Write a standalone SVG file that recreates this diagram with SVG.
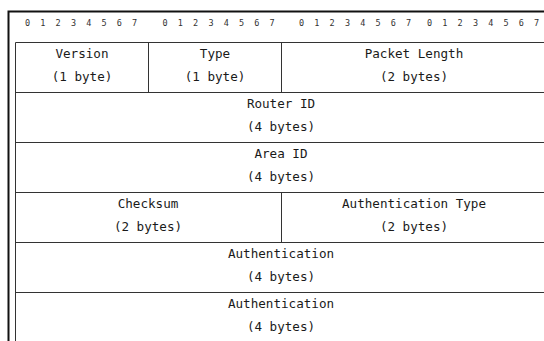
<svg xmlns="http://www.w3.org/2000/svg" width="544" height="341" viewBox="0 0 544 341">
  <style>
    .frame { fill: none; stroke: #111; stroke-width: 2; }
    .grid { fill: none; stroke: #333; stroke-width: 1; }
    .lbl { font-family: "DejaVu Sans Mono", "Liberation Mono", monospace; font-size: 12.6px; fill: #1a1a1a; text-anchor: middle; }
    .bits { font-family: "DejaVu Sans Mono", "Liberation Mono", monospace; font-size: 8.5px; fill: #333; letter-spacing: 2.53px; }
  </style>
  <rect width="544" height="341" fill="#fff"/>

  <!-- outer frame (open at right and bottom) -->
  <path class="frame" d="M8.5 341 V11.5 H544"/>

  <!-- bit numbering header, one group per byte -->
  <g id="bit-header">
    <text class="bits" x="25" y="26">0 1 2 3 4 5 6 7</text>
    <text class="bits" x="162.5" y="26">0 1 2 3 4 5 6 7</text>
    <text class="bits" x="299" y="26">0 1 2 3 4 5 6 7</text>
    <text class="bits" x="427" y="26">0 1 2 3 4 5 6 7</text>
  </g>

  <!-- table grid -->
  <g id="connectors">
    <path class="grid" d="M15.5 341 V42.5 H544"/>
    <path class="grid" d="M15.5 92.5 H544 M15.5 142.5 H544 M15.5 192.5 H544 M15.5 242.5 H544 M15.5 292.5 H544"/>
    <path class="grid" d="M148.5 42.5 V92.5 M281.5 42.5 V92.5 M281.5 192.5 V242.5"/>
  </g>

  <g id="version">
    <text class="lbl" x="82" y="57.5">Version</text>
    <text class="lbl" x="82" y="81">(1 byte)</text>
  </g>
  <g id="type">
    <text class="lbl" x="215" y="57.5">Type</text>
    <text class="lbl" x="215" y="81">(1 byte)</text>
  </g>
  <g id="packet-length">
    <text class="lbl" x="414" y="57.5">Packet Length</text>
    <text class="lbl" x="414" y="81">(2 bytes)</text>
  </g>
  <g id="router-id">
    <text class="lbl" x="281" y="107.5">Router ID</text>
    <text class="lbl" x="281" y="131">(4 bytes)</text>
  </g>
  <g id="area-id">
    <text class="lbl" x="281" y="157.5">Area ID</text>
    <text class="lbl" x="281" y="181">(4 bytes)</text>
  </g>
  <g id="checksum">
    <text class="lbl" x="148" y="207.5">Checksum</text>
    <text class="lbl" x="148" y="231">(2 bytes)</text>
  </g>
  <g id="auth-type">
    <text class="lbl" x="414" y="207.5">Authentication Type</text>
    <text class="lbl" x="414" y="231">(2 bytes)</text>
  </g>
  <g id="authentication-1">
    <text class="lbl" x="281" y="257.5">Authentication</text>
    <text class="lbl" x="281" y="281">(4 bytes)</text>
  </g>
  <g id="authentication-2">
    <text class="lbl" x="281" y="307.5">Authentication</text>
    <text class="lbl" x="281" y="331">(4 bytes)</text>
  </g>
</svg>
